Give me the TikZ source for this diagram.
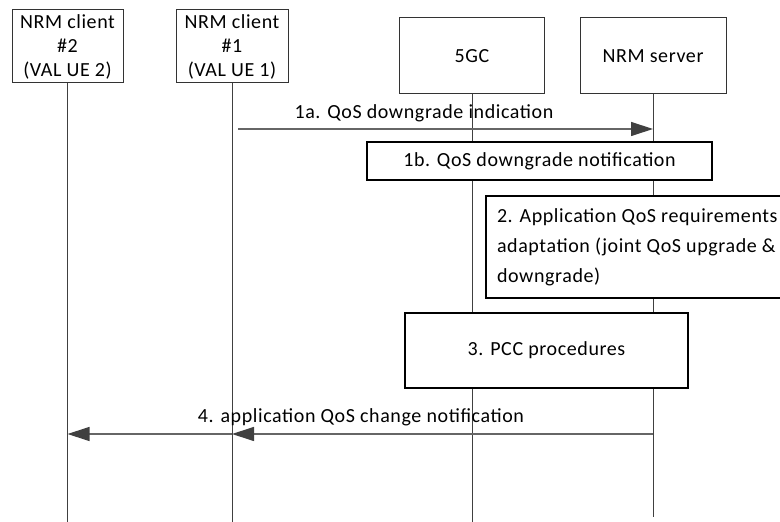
\documentclass[tikz,border=0pt]{standalone}
\usepackage{fontspec}
\setmainfont{Carlito}[LetterSpace=3]
\usetikzlibrary{arrows.meta}
\tikzset{
  entity/.style={draw=black!80, line width=0.5pt, fill=white, align=center, inner sep=0pt},
  procbox/.style={draw=black, line width=1pt, fill=white, inner sep=0pt},
  lifeline/.style={draw=black!75, line width=0.5pt},
  msg/.style={draw=black!60, line width=0.6pt, -{Triangle[length=11pt, width=7pt, color=black!75]}}
}
\begin{document}
\begin{tikzpicture}[x=0.5pt, y=-0.5pt, font=\fontsize{10pt}{12pt}\selectfont]
	\useasboundingbox (0,0) rectangle (780,522);
	% entities
	\node[entity, minimum width=55.5pt, minimum height=36.5pt] (cl2) at (67.5,46.5) {NRM client\\\#2\\(VAL UE 2)};
	\node[entity, minimum width=56pt, minimum height=36.5pt] (cl1) at (232,46.5) {NRM client\\\#1\\(VAL UE 1)};
	\node[entity, minimum width=72.5pt, minimum height=38pt] (fgc) at (472,56) {5GC};
	\node[entity, minimum width=73pt, minimum height=38pt] (srv) at (653,56) {NRM server};
	% lifelines
	\coordinate (cl2e) at (67.5,522);
	\coordinate (cl1e) at (232,522);
	\coordinate (fgce) at (472,522);
	\coordinate (srve) at (653,517);
	\draw[lifeline] (cl2) -- (cl2e);
	\draw[lifeline] (cl1) -- (cl1e);
	\draw[lifeline] (fgc) -- (fgce);
	\draw[lifeline] (srv) -- (srve);
	% steps
	\node[procbox, minimum width=172.5pt, minimum height=19pt] (s1b) at (539.5,161) {1b. QoS downgrade notification};
	\node[procbox, anchor=north west, align=flush left, text width=150pt, inner xsep=5.5pt, minimum height=51pt,
	  font=\fontsize{10pt}{15pt}\selectfont] (s2) at (485,195) {2. Application QoS requirements\\adaptation (joint QoS upgrade \&\\downgrade)};
	\node[procbox, minimum width=141.5pt, minimum height=37.5pt] (s3) at (546.5,350.5) {3. PCC procedures};
	% messages
	\coordinate (m1a) at (238,129);
	\coordinate (m4) at (653,434);
	\draw[msg] (m1a) -- (srv |- m1a);
	\node (l1a) at (424,113) {1a. QoS downgrade indication};
	\draw[msg] (m4) -- (cl1 |- m4);
	\draw[msg] (cl1 |- m4) -- (cl2 |- m4);
	\node (l4) at (361,417) {4. application QoS change notification};
\end{tikzpicture}
\end{document}
